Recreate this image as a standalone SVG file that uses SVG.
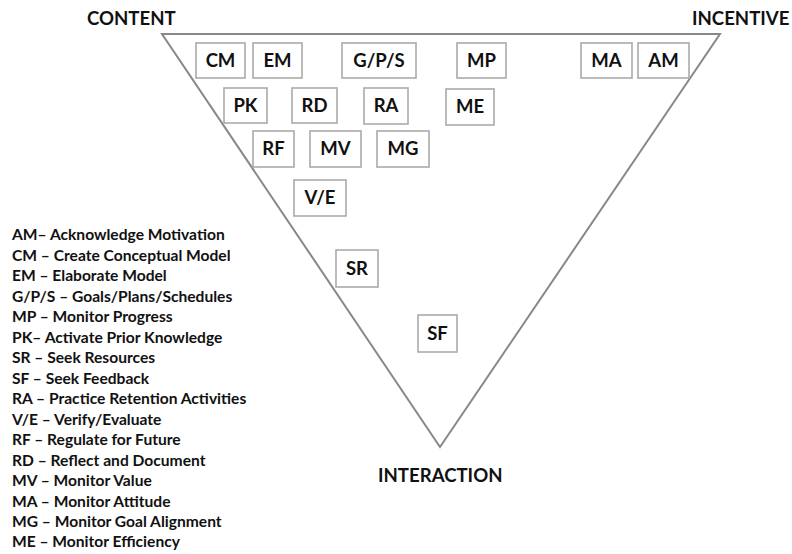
<svg xmlns="http://www.w3.org/2000/svg" width="792" height="554" viewBox="0 0 792 554">
  <style>
    .corner { font-family: Lato, "Open Sans", "Liberation Sans", sans-serif; font-weight: bold; font-size: 18.6px; fill: #111; }
    .box rect { fill: #fff; stroke: #aaa; stroke-width: 1.6; }
    .box text { font-family: Lato, "Open Sans", "Liberation Sans", sans-serif; font-weight: bold; font-size: 18.5px; fill: #111; text-anchor: middle; }
    .legend { font-family: Lato, "Open Sans", "Liberation Sans", sans-serif; font-weight: bold; font-size: 15.6px; fill: #111; }
  </style>

  <!-- inverted triangle frame -->
  <g id="frame">
    <polygon points="162,34 720,34 440,447" fill="#fff" stroke="#888" stroke-width="2" stroke-linejoin="miter"/>
  </g>

  <!-- corner labels -->
  <g id="labels">
    <text class="corner" x="87" y="25">CONTENT</text>
    <text class="corner" x="692" y="25">INCENTIVE</text>
    <text class="corner" x="378" y="482">INTERACTION</text>
  </g>

  <!-- strategy boxes -->
  <g id="CM" class="box"><rect x="196" y="43" width="49" height="35"/><text x="220.5" y="67">CM</text></g>
  <g id="EM" class="box"><rect x="253" y="43" width="49" height="35"/><text x="277.5" y="67">EM</text></g>
  <g id="GPS" class="box"><rect x="342" y="43" width="74" height="35"/><text x="379" y="67">G/P/S</text></g>
  <g id="MP" class="box"><rect x="457" y="43" width="49" height="35"/><text x="481.5" y="67">MP</text></g>
  <g id="MA" class="box"><rect x="581" y="43" width="51" height="35"/><text x="606.5" y="67">MA</text></g>
  <g id="AM" class="box"><rect x="638" y="43" width="51" height="35"/><text x="663.5" y="67">AM</text></g>

  <g id="PK" class="box"><rect x="224" y="88" width="43" height="35"/><text x="245.5" y="112">PK</text></g>
  <g id="RD" class="box"><rect x="292" y="88" width="45" height="35"/><text x="314.5" y="112">RD</text></g>
  <g id="RA" class="box"><rect x="364" y="88" width="44" height="36"/><text x="386" y="112">RA</text></g>
  <g id="ME" class="box"><rect x="446" y="89" width="48" height="36"/><text x="470" y="113">ME</text></g>

  <g id="RF" class="box"><rect x="253" y="131" width="41" height="36"/><text x="273.5" y="155">RF</text></g>
  <g id="MV" class="box"><rect x="310" y="131" width="51" height="36"/><text x="335.5" y="155">MV</text></g>
  <g id="MG" class="box"><rect x="377" y="131" width="52" height="36"/><text x="403" y="155">MG</text></g>

  <g id="VE" class="box"><rect x="294" y="180" width="52" height="36"/><text x="320" y="204">V/E</text></g>
  <g id="SR" class="box"><rect x="336" y="250" width="42" height="37"/><text x="357" y="275">SR</text></g>
  <g id="SF" class="box"><rect x="418" y="315" width="39" height="37"/><text x="437.5" y="340">SF</text></g>

  <!-- abbreviation legend -->
  <g id="legend" class="legend">
    <text x="12" y="240">AM– Acknowledge Motivation</text>
    <text x="12" y="260.5">CM – Create Conceptual Model</text>
    <text x="12" y="281">EM – Elaborate Model</text>
    <text x="12" y="301.5">G/P/S – Goals/Plans/Schedules</text>
    <text x="12" y="322">MP – Monitor Progress</text>
    <text x="12" y="342.5">PK– Activate Prior Knowledge</text>
    <text x="12" y="363">SR – Seek Resources</text>
    <text x="12" y="383.5">SF – Seek Feedback</text>
    <text x="12" y="404">RA – Practice Retention Activities</text>
    <text x="12" y="424.5">V/E – Verify/Evaluate</text>
    <text x="12" y="445">RF – Regulate for Future</text>
    <text x="12" y="465.5">RD – Reflect and Document</text>
    <text x="12" y="486">MV – Monitor Value</text>
    <text x="12" y="506.5">MA – Monitor Attitude</text>
    <text x="12" y="527">MG – Monitor Goal Alignment</text>
    <text x="12" y="547">ME – Monitor Efficiency</text>
  </g>
</svg>
